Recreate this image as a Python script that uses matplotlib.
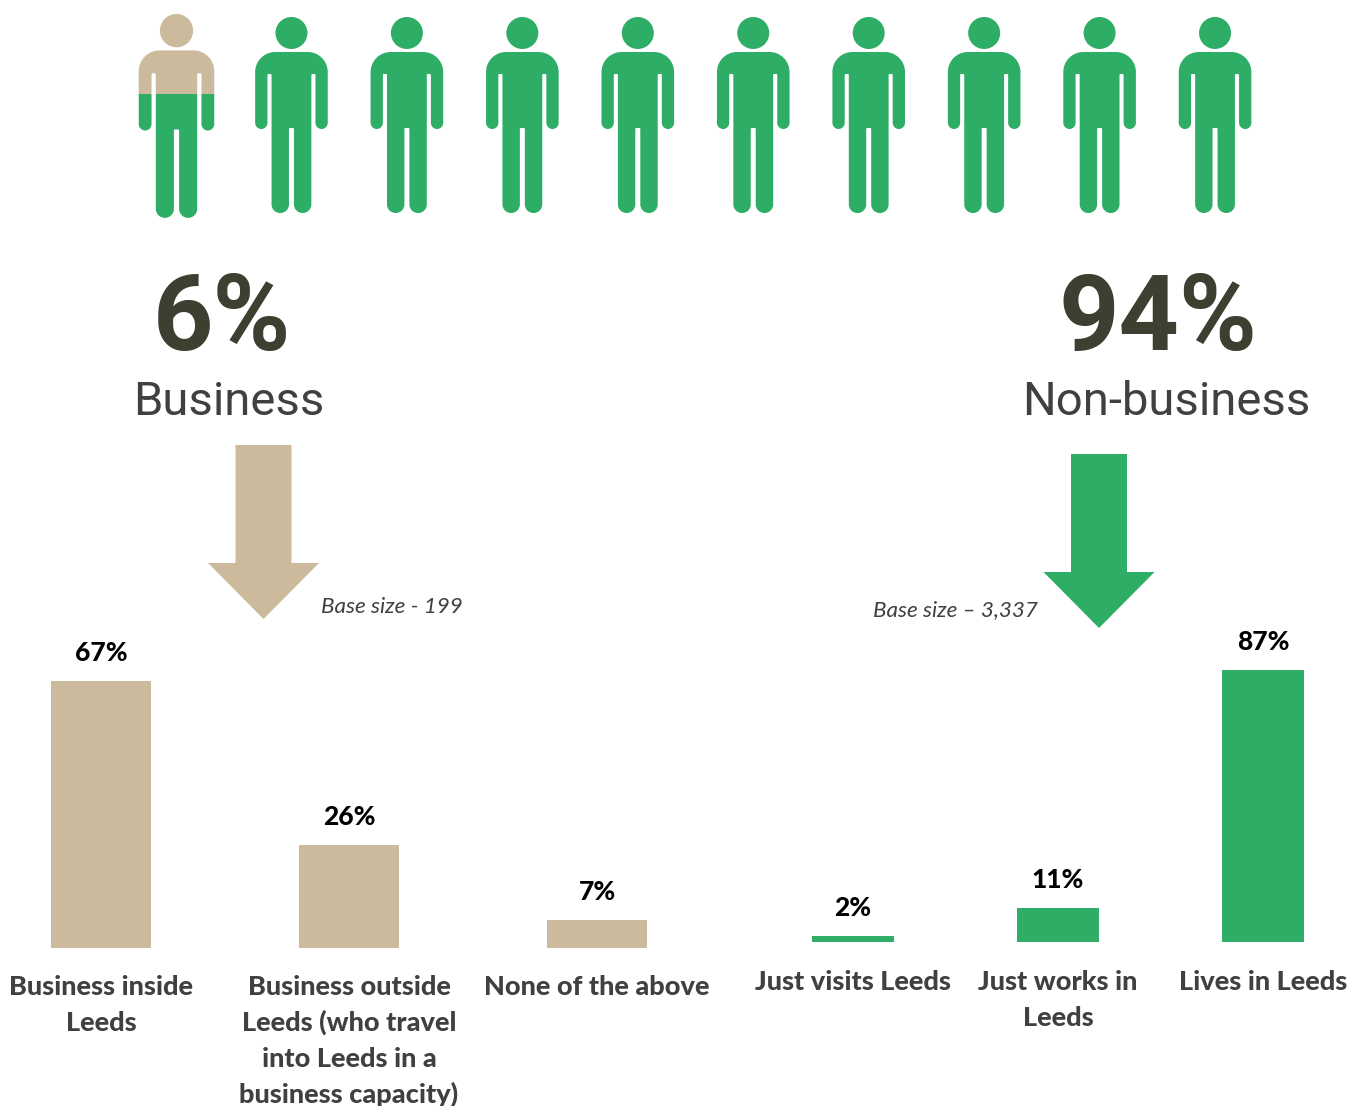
#!/usr/bin/env python
"""Split of respondents into business / non-business, with a breakdown of each."""
import matplotlib
matplotlib.use('Agg')
import matplotlib.pyplot as plt
from matplotlib.patches import PathPatch, Polygon, Rectangle
from matplotlib.path import Path

W, H = 1358, 1106
TAN = '#cbbb9c'
GREEN = '#2ead66'
DARK = '#3e3f30'
GREY = '#404040'

BUSINESS_LABELS = ['Business inside\nLeeds',
                   'Business outside\nLeeds (who travel\ninto Leeds in a\nbusiness capacity)',
                   'None of the above']
BUSINESS_VALUES = [67, 26, 7]
OTHER_LABELS = ['Just visits Leeds', 'Just works in\nLeeds', 'Lives in Leeds']
OTHER_VALUES = [2, 11, 87]

BUSINESS_SHARE = 6
OTHER_SHARE = 94
BUSINESS_BASE = 'Base size - 199'
OTHER_BASE = 'Base size \u2013 3,337'
N_PEOPLE = 10

LABEL_FONT = 'Lato'
BIG_FONT = 'Roboto'
KAPPA = 0.5523


def rounded_outline(points):
    """Closed path through (x, y, corner radius) points, corners as cubic arcs."""
    verts, codes = [], []
    n = len(points)
    for i, (x, y, r) in enumerate(points):
        px, py, _ = points[i - 1]
        nx, ny, _ = points[(i + 1) % n]
        d0 = ((px - x)**2 + (py - y)**2)**0.5
        d1 = ((nx - x)**2 + (ny - y)**2)**0.5
        a = (x + (px - x) * r / d0, y + (py - y) * r / d0)
        b = (x + (nx - x) * r / d1, y + (ny - y) * r / d1)
        c0 = (a[0] + (x - a[0]) * KAPPA, a[1] + (y - a[1]) * KAPPA)
        c1 = (b[0] + (x - b[0]) * KAPPA, b[1] + (y - b[1]) * KAPPA)
        verts.append(a)
        codes.append(Path.MOVETO if i == 0 else Path.LINETO)
        verts += [c0, c1, b]
        codes += [Path.CURVE4] * 3
    verts.append(verts[0])
    codes.append(Path.CLOSEPOLY)
    return Path(verts, codes)


def person_path(cx, top, s=1.0):
    """Pictogram person, head top at y=top (axes have y pointing down)."""
    half = [(36.3, 35, 20), (36.3, 112, 6.1), (24, 112, 6.1), (24, 57, 1), (19.9, 57, 1),
            (19.9, 196, 8.5), (2.5, 196, 8.5), (2.5, 111, 1)]
    pts = [(x, y, r) for x, y, r in half]
    pts += [(-x, y, r) for x, y, r in reversed(half)]
    body = rounded_outline(pts)
    head = Path.circle((0, 16), 16)
    both = Path.make_compound_path(head, body)
    return Path(both.vertices * s + (cx, top), both.codes)


def draw_person(ax, cx, top, s=1.0, split=None):
    path = person_path(cx, top, s)
    low = PathPatch(path, fc=GREEN, ec='none')
    ax.add_patch(low)
    if split is not None:
        low.set_clip_path(Rectangle((0, split), W, H - split, transform=ax.transData))
        up = PathPatch(path, fc=TAN, ec='none')
        ax.add_patch(up)
        up.set_clip_path(Rectangle((0, 0), W, split, transform=ax.transData))


def down_arrow(ax, cx, top, color):
    pts = [(cx - 28, top), (cx + 28, top), (cx + 28, top + 118), (cx + 55.5, top + 118),
           (cx, top + 174), (cx - 55.5, top + 118), (cx - 28, top + 118)]
    ax.add_patch(Polygon(pts, closed=True, fc=color, ec='none'))


def bar_panel(fig, left, right, baseline, px_per_pct, labels, values, width, color,
              label_gap, first_line):
    """Bars on their own axes; x in category units, y in percent."""
    n = len(values)
    ymax = 100
    ax = fig.add_axes([left / W, 1 - baseline / H, (right - left) / W, ymax * px_per_pct / H])
    ax.set_xlim(-0.5, n - 0.5)
    ax.set_ylim(0, ymax)
    ax.axis('off')
    xs = list(range(n))
    ax.bar(xs, values, width=width, color=color)
    for x, v in zip(xs, values):
        ax.annotate(f'{v}%', (x, v), xytext=(0, label_gap), textcoords='offset pixels',
                    ha='center', va='baseline', fontsize=19, fontweight=900,
                    family=LABEL_FONT, color='black')
    step = (right - left) / n
    for i, lab in enumerate(labels):
        for j, line in enumerate(lab.split('\n')):
            fig.text((left + step * (i + 0.5)) / W, 1 - (first_line + 36 * j) / H, line,
                     ha='center', va='baseline', fontsize=19.5, fontweight=900,
                     family=LABEL_FONT, color=GREY)
    return ax


def main():
    fig = plt.figure(figsize=(W / 100, H / 100), dpi=100, facecolor='white')

    # overlay in pixel coordinates for the pictograms, arrows and headings
    ov = fig.add_axes([0, 0, 1, 1])
    ov.set_xlim(0, W)
    ov.set_ylim(H, 0)
    ov.axis('off')

    draw_person(ov, 176.5, 14, 1.04, split=94.3)
    for i in range(1, N_PEOPLE):
        draw_person(ov, 176 + 115.45 * i, 17)

    ov.text(222, 350, f'{BUSINESS_SHARE}%', ha='center', va='baseline', fontsize=76,
            fontweight='bold', family=BIG_FONT, color=DARK)
    ov.text(1158, 350, f'{OTHER_SHARE}%', ha='center', va='baseline', fontsize=76,
            fontweight='bold', family=BIG_FONT, color=DARK)
    ov.text(229, 415, 'Business', ha='center', va='baseline', fontsize=34,
            family=BIG_FONT, color=GREY)
    ov.text(1166, 415, 'Non-business', ha='center', va='baseline', fontsize=34,
            family=BIG_FONT, color=GREY)

    down_arrow(ov, 263.5, 445, TAN)
    down_arrow(ov, 1099, 454, GREEN)

    ov.text(321, 613, BUSINESS_BASE, ha='left', va='baseline', fontsize=16.2,
            style='italic', family=LABEL_FONT, color=GREY)
    ov.text(873, 616, OTHER_BASE, ha='left', va='baseline', fontsize=16.2,
            style='italic', family=LABEL_FONT, color=GREY)

    bar_panel(fig, -23, 721, 948, 3.98, BUSINESS_LABELS, BUSINESS_VALUES, 100 / 248, TAN,
              20, 995)
    bar_panel(fig, 750.5, 1365.5, 942, 3.13, OTHER_LABELS, OTHER_VALUES, 82 / 205, GREEN,
              20, 990)

    fig.savefig('out.png', dpi=100, facecolor='white')


if __name__ == '__main__':
    main()
